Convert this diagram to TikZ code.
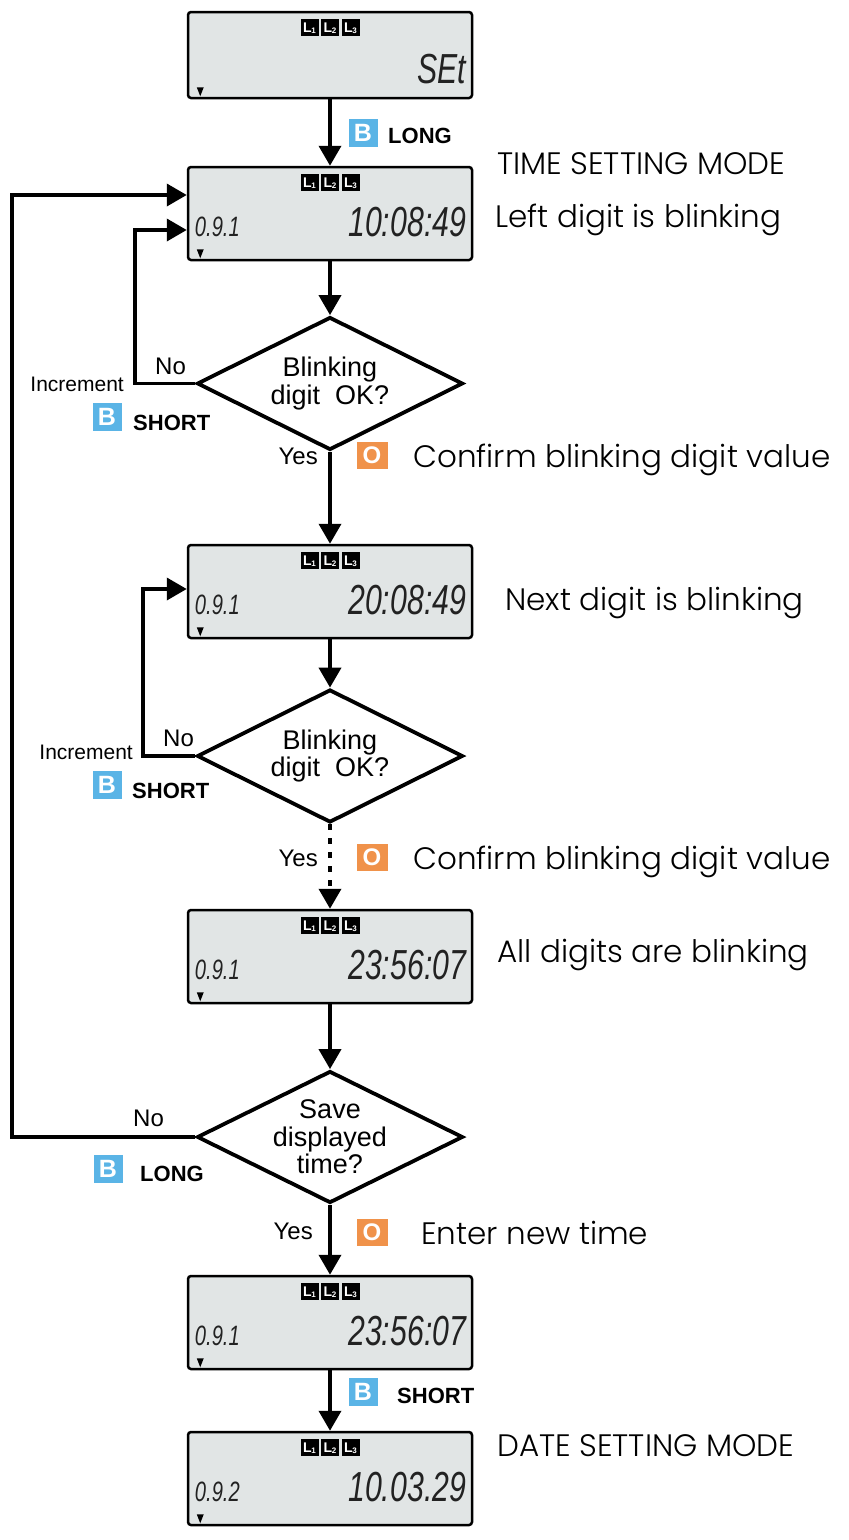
\documentclass[tikz,border=0pt]{standalone}
\usepackage{fontspec}
\usetikzlibrary{arrows.meta,shapes.geometric,calc}
\newfontfamily\arial{Liberation Sans}
\newfontfamily\gothic{Poppins Light}
\definecolor{lcdgray}{HTML}{E1E5E5}
\definecolor{bblue}{HTML}{5AB4E6}
\definecolor{oorange}{HTML}{F0924A}
\definecolor{lcdink}{HTML}{222222}
\tikzset{
  lcd/.style={draw=black, line width=2.5pt, fill=lcdgray, rounded corners=3pt,
    minimum width=284pt, minimum height=93pt, inner sep=0pt},
  flow/.style={line width=3.8pt, -{Triangle[width=22pt,length=20pt]}},
  dottedflow/.style={flow, dash pattern=on 6pt off 8pt},
  dec/.style={draw, diamond, line width=3.8pt, minimum width=266pt, minimum height=133pt,
    inner sep=-30pt, align=center, font=\arial\fontsize{27}{27.5}\selectfont},
  lbl/.style={inner sep=0pt, font=\arial\fontsize{24}{28}\selectfont},
  smlbl/.style={inner sep=0pt, font=\arial\fontsize{21}{24}\selectfont},
  keylbl/.style={inner sep=0pt, font=\arial\bfseries\fontsize{22}{24}\selectfont},
  note/.style={inner sep=0pt, font=\gothic\fontsize{31}{34}\selectfont},
  bbtn/.style={fill=bblue, minimum width=29pt, minimum height=28pt, inner sep=0pt,
    text=white, font=\arial\bfseries\fontsize{25}{25}\selectfont},
  obtn/.style={fill=oorange, minimum width=31pt, minimum height=27pt, inner sep=0pt,
    text=white, font=\arial\bfseries\fontsize{24}{24}\selectfont},
  licon/.style={fill=black, minimum width=18pt, minimum height=17pt, inner sep=0pt,
    text=white, font=\arial\bfseries\fontsize{14}{14}\selectfont},
  bigdig/.style={inner sep=0pt, text=lcdink, font=\arial\itshape\fontsize{42}{42}\selectfont},
  smalldig/.style={inner sep=0pt, text=lcdink, font=\arial\itshape\fontsize{28}{28}\selectfont},
}
\newcommand\licontext[1]{L\kern-0.3pt\raisebox{-1pt}{\fontsize{8}{8}\selectfont #1}}
% #1 name, #2 small text, #3 big text, #4 baseline offset from bottom
\newcommand\lcdparts[4]{%
  \node[licon] (#1la) at ($(#1.north)+(-20.5,17)$) {\licontext{1}};
  \node[licon] (#1lb) at ($(#1.north)+(0,17)$) {\licontext{2}};
  \node[licon] (#1lc) at ($(#1.north)+(20.5,17)$) {\licontext{3}};
  \node[bigdig, anchor=base east] (#1big) at ($(#1.south east)+(-7,-#4)$) {\scalebox{0.72}[1]{#3}};
  \node[smalldig, anchor=base west] (#1small) at ($(#1.south west)+(8,-#4)$) {\scalebox{0.72}[1]{#2}};
  \fill[black] ($(#1.south west)+(10,-12)$) -- ++(7,0) -- ++(-3.5,9) -- cycle;
}
\begin{document}
\begin{tikzpicture}[x=1pt,y=-1pt]
\useasboundingbox (0,0) rectangle (849,1540);
\fill[white] (0,0) rectangle (849,1540);

% LCD panels
\node[lcd, minimum height=86pt] (b1) at (330,55) {};
\lcdparts{b1}{}{SEt}{16}
\node[lcd] (b2) at (330,213.5) {};
\lcdparts{b2}{0.9.1}{10:08:49}{25}
\node[lcd] (b3) at (330,591.5) {};
\lcdparts{b3}{0.9.1}{20:08:49}{25}
\node[lcd] (b4) at (330,956.5) {};
\lcdparts{b4}{0.9.1}{23:56:07}{25}
\node[lcd] (b5) at (330,1322.5) {};
\lcdparts{b5}{0.9.1}{23:56:07}{25}
\node[lcd] (b6) at (330,1478.5) {};
\lcdparts{b6}{0.9.2}{10.03.29}{25}

% decisions
\node[dec] (d1) at (330,383.5) {Blinking\\digit\ \ OK?};
\node[dec] (d2) at (330,756) {Blinking\\digit\ \ OK?};
\node[dec, minimum height=132pt] (d3) at (330,1137) {Save\\displayed\\time?};

% loop x positions
\coordinate (lx) at (12,0);
\coordinate (ix1) at (135,0);
\coordinate (ix2) at (143,0);

% main flow
\draw[flow] (b1.south) -- (b2.north);
\draw[flow] (b2.south) -- (d1.north);
\draw[flow] (d1.south) -- (b3.north);
\draw[flow] (b3.south) -- (d2.north);
\draw[dottedflow] (d2.south) -- (b4.north);
\draw[flow] (b4.south) -- (d3.north);
\draw[flow] (d3.south) -- (b5.north);
\draw[flow] (b5.south) -- (b6.north);

% loops
\coordinate (b2low) at ($(b2.west)+(0,16.5)$);
\coordinate (b2up) at ($(b2.west)+(0,-18.5)$);
\coordinate (b3in) at ($(b3.west)+(0,-2.5)$);
\draw[flow] (d1.west) -- (d1.west -| ix1) |- (b2low);
\draw[flow] (d2.west) -- (d2.west -| ix2) |- (b3in);
\draw[flow] (d3.west) -- (d3.west -| lx) |- (b2up);

% key labels
\node[bbtn] (k1) at (363,133) {B};
\node[keylbl, anchor=base west] (k1t) at (388,143) {LONG};

\node[smlbl, anchor=base east] (inc1) at (124,391) {Increment};
\node[lbl, anchor=base west] (no1) at (155,374) {No};
\node[bbtn] (k2) at (107,417) {B};
\node[keylbl, anchor=base west] (k2t) at (133,430) {SHORT};

\node[lbl, anchor=base east] (yes1) at (318,464) {Yes};
\node[obtn] (o1) at (372,455) {O};

\node[smlbl, anchor=base east] (inc2) at (133,759) {Increment};
\node[lbl, anchor=base west] (no2) at (163,746) {No};
\node[bbtn] (k3) at (107,785) {B};
\node[keylbl, anchor=base west] (k3t) at (132,798) {SHORT};

\node[lbl, anchor=base east] (yes2) at (318,866) {Yes};
\node[obtn] (o2) at (372,857) {O};

\node[lbl, anchor=base west] (no3) at (133,1126) {No};
\node[bbtn] (k4) at (108,1169) {B};
\node[keylbl, anchor=base west] (k4t) at (140,1181) {LONG};

\node[lbl, anchor=base east] (yes3) at (313,1239) {Yes};
\node[obtn] (o3) at (372,1232) {O};

\node[bbtn] (k5) at (363,1392) {B};
\node[keylbl, anchor=base west] (k5t) at (397,1403) {SHORT};

% notes
\node[note, anchor=base west] (n1) at (497,174) {TIME SETTING MODE};
\node[note, anchor=base west] (n2) at (495,227) {Left digit is blinking};
\node[note, anchor=base west] (n3) at (413,467) {Confirm blinking digit value};
\node[note, anchor=base west] (n4) at (505,610) {Next digit is blinking};
\node[note, anchor=base west] (n5) at (413,869) {Confirm blinking digit value};
\node[note, anchor=base west] (n6) at (497,962) {All digits are blinking};
\node[note, anchor=base west] (n7) at (421,1244) {Enter new time};
\node[note, anchor=base west] (n8) at (497,1456) {DATE SETTING MODE};
\end{tikzpicture}
\end{document}
